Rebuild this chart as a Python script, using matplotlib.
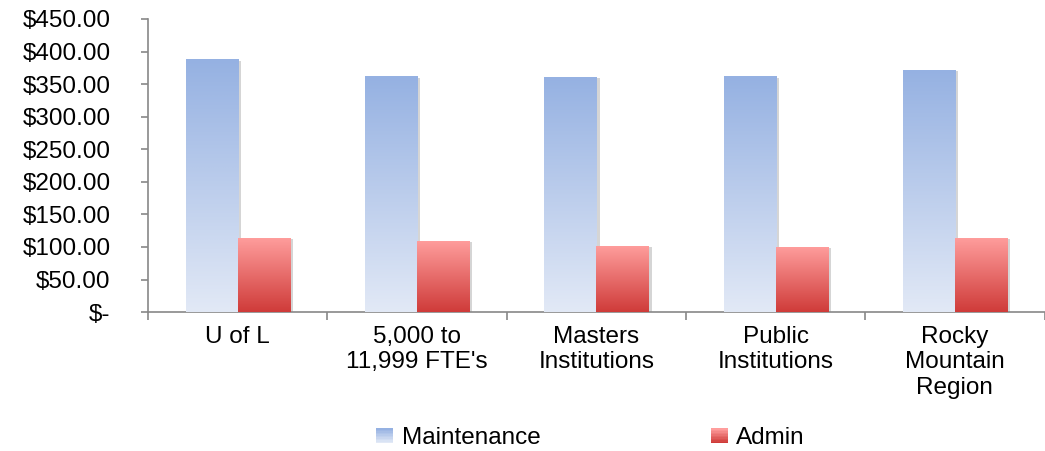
import numpy as np
import matplotlib
matplotlib.use("Agg")
import matplotlib.pyplot as plt
import matplotlib.patheffects as pe
from matplotlib.colors import LinearSegmentedColormap, to_rgb
from matplotlib.legend_handler import HandlerBase
from matplotlib.patches import Patch, Rectangle
from matplotlib.ticker import FuncFormatter

plt.rcParams['font.family'] = ['Liberation Sans', 'DejaVu Sans']

# data
categories = ["U of L", "5,000 to\n11,999 FTE's", "Masters\nInstitutions",
              "Public\nInstitutions", "Rocky\nMountain\nRegion"]
maintenance = [388, 362, 361, 362, 372]
admin = [114, 109, 102, 100, 114]

# gradient colours (top, bottom)
blue_top, blue_bot = "#95B1E2", "#E2E9F6"
red_top, red_bot = "#FF9E9D", "#CF3B39"


def money(v, pos):
    if v == 0:
        return "$-"
    return "${:,.2f}".format(v)


def grad_bars(ax, bars, c_top, c_bot):
    cmap = LinearSegmentedColormap.from_list("g", [c_bot, c_top])
    g = np.linspace(0, 1, 256).reshape(-1, 1)
    for b in bars:
        x, y = b.get_x(), b.get_y()
        w, h = b.get_width(), b.get_height()
        im = ax.imshow(g, extent=[x, x + w, y, y + h], origin='lower',
                       aspect='auto', cmap=cmap, zorder=3, interpolation='bilinear')
        im.set_clip_path(b)


class GradHandler(HandlerBase):
    def __init__(self, c_top, c_bot):
        super().__init__()
        self.c_top = np.array(to_rgb(c_top))
        self.c_bot = np.array(to_rgb(c_bot))

    def create_artists(self, legend, orig_handle, xdescent, ydescent,
                       width, height, fontsize, trans):
        n = 10
        arts = []
        for i in range(n):
            f = i / (n - 1)
            col = self.c_bot * (1 - f) + self.c_top * f
            r = Rectangle((-xdescent, -ydescent + i * height / n), width,
                          height / n * 1.05, facecolor=col, edgecolor='none',
                          transform=trans)
            arts.append(r)
        return arts


fig = plt.figure(figsize=(10.45, 4.51), dpi=100)
ax = fig.add_axes([0.1416, 0.308, 0.858, 0.65])

x = np.arange(len(categories))
bw = 0.29
shadow = [pe.SimplePatchShadow(offset=(2.5, -1), shadow_rgbFace='#888888', alpha=0.35),
          pe.Normal()]
b1 = ax.bar(x - bw / 2, maintenance, bw, color='white', zorder=2, path_effects=shadow)
b2 = ax.bar(x + bw / 2, admin, bw, color='white', zorder=2, path_effects=shadow)
grad_bars(ax, b1, blue_top, blue_bot)
grad_bars(ax, b2, red_top, red_bot)

ax.set_xlim(-0.5, len(categories) - 0.5)
ax.set_ylim(0, 450)
ax.set_yticks(np.arange(0, 451, 50))
ax.yaxis.set_major_formatter(FuncFormatter(money))

ax.set_xticks(x)
ax.set_xticklabels(categories, fontsize=17.5, linespacing=1.2)
ax.set_xticks(np.arange(-0.5, len(categories), 1), minor=True)
ax.tick_params(axis='x', which='major', length=0, pad=10)
ax.tick_params(axis='x', which='minor', length=6, color='#888888', width=1.2)
ax.tick_params(axis='y', length=5, color='#888888', width=1.2, labelsize=17.5, pad=22)

for s in ['top', 'right']:
    ax.spines[s].set_visible(False)
for s in ['left', 'bottom']:
    ax.spines[s].set_color('#888888')
    ax.spines[s].set_linewidth(1.2)

h1 = Patch(label="Maintenance")
h2 = Patch(label="Admin")
fig.legend(handles=[h1, h2], handler_map={h1: GradHandler(blue_top, blue_bot),
                                          h2: GradHandler(red_top, red_bot)},
           loc='lower center', bbox_to_anchor=(0.565, -0.045), ncol=2, frameon=False,
           fontsize=17.5, handlelength=0.7, handleheight=0.55, handletextpad=0.35,
           columnspacing=7.0)

fig.savefig("out.png", dpi=100)
